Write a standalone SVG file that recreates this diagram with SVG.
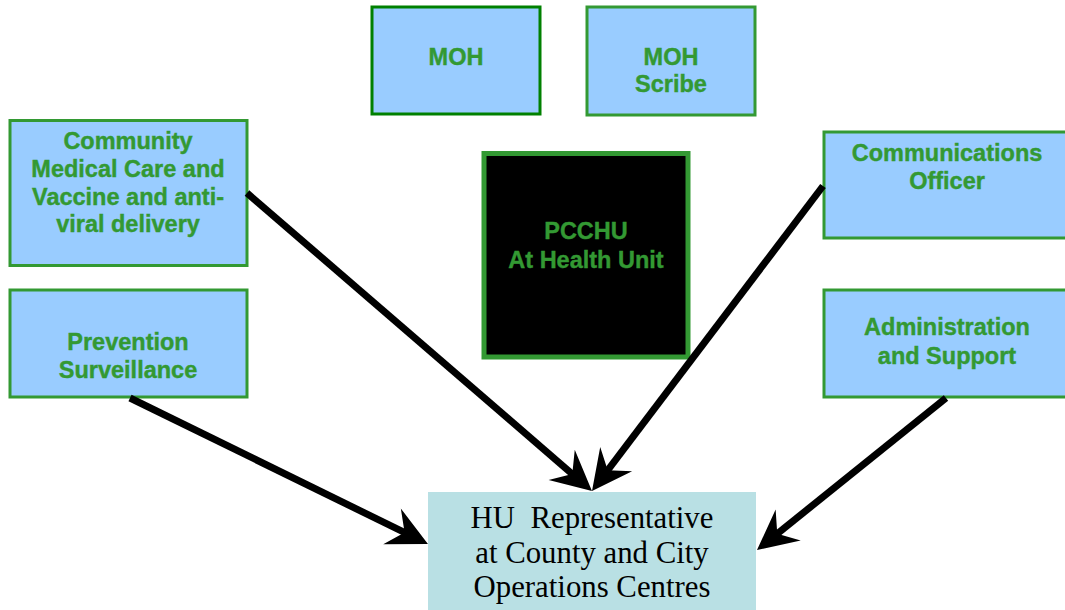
<svg xmlns="http://www.w3.org/2000/svg" width="1065" height="610" viewBox="0 0 1065 610">
<style>
.box{fill:#99ccff;stroke:#339933;stroke-width:3}
.lbl{font-family:"Liberation Sans",Arial,sans-serif;font-weight:bold;font-size:23.5px;fill:#339933;stroke:#339933;stroke-width:0.4;text-anchor:middle}
.hu{font-family:"Liberation Serif","Times New Roman",serif;font-size:30.8px;fill:#000;text-anchor:middle;white-space:pre}
.arr{stroke:#000;stroke-width:7;fill:none;marker-end:url(#head)}
</style>
<defs>
<marker id="head" markerUnits="userSpaceOnUse" viewBox="0 0 44 44" markerWidth="44" markerHeight="44" refX="18" refY="22" orient="auto">
<path d="M42,22 L2,2 L16,22 L2,42 Z" fill="#000"/>
</marker>
</defs>
<rect width="1065" height="610" fill="#fff"/>
<g id="moh">
<rect x="372" y="7" width="168" height="107" class="box" style="stroke:#008000"/>
<text x="456" y="65" class="lbl">MOH</text>
</g>
<g id="moh-scribe">
<rect x="587" y="7" width="168" height="108" class="box"/>
<text x="671" y="65" class="lbl">MOH</text>
<text x="671" y="92" class="lbl">Scribe</text>
</g>
<g id="community">
<rect x="10" y="120.5" width="237" height="145" class="box"/>
<text x="128" y="149" class="lbl">Community</text>
<text x="128" y="177" class="lbl">Medical Care and</text>
<text x="128" y="205" class="lbl">Vaccine and anti-</text>
<text x="128" y="232" class="lbl">viral delivery</text>
</g>
<g id="prevention">
<rect x="10" y="290" width="237" height="107" class="box"/>
<text x="128" y="350" class="lbl">Prevention</text>
<text x="128" y="378" class="lbl">Surveillance</text>
</g>
<g id="communications">
<rect x="824" y="132" width="245" height="106" class="box"/>
<text x="947" y="161" class="lbl">Communications</text>
<text x="947" y="189" class="lbl">Officer</text>
</g>
<g id="admin">
<rect x="824" y="290" width="245" height="107" class="box"/>
<text x="947" y="335" class="lbl">Administration</text>
<text x="947" y="364" class="lbl">and Support</text>
</g>
<g id="pcchu">
<rect x="484" y="153.5" width="204" height="203.5" fill="#000" stroke="#339933" stroke-width="5"/>
<text x="586" y="239" class="lbl">PCCHU</text>
<text x="586" y="268" class="lbl">At Health Unit</text>
</g>
<g id="hu-rep">
<rect x="428" y="492" width="328" height="120" fill="#b9e0e4"/>
<text x="592" y="528" class="hu">HU  Representative</text>
<text x="592" y="563" class="hu">at County and City</text>
<text x="592" y="597" class="hu">Operations Centres</text>
</g>
<g id="connectors">
<line x1="247" y1="193" x2="573.8" y2="475.3" class="arr"/>
<line x1="823" y1="186" x2="606.5" y2="471.9" class="arr"/>
<line x1="130" y1="398" x2="406.4" y2="533.4" class="arr"/>
<line x1="946" y1="398" x2="775.7" y2="535" class="arr"/>
</g>
</svg>
